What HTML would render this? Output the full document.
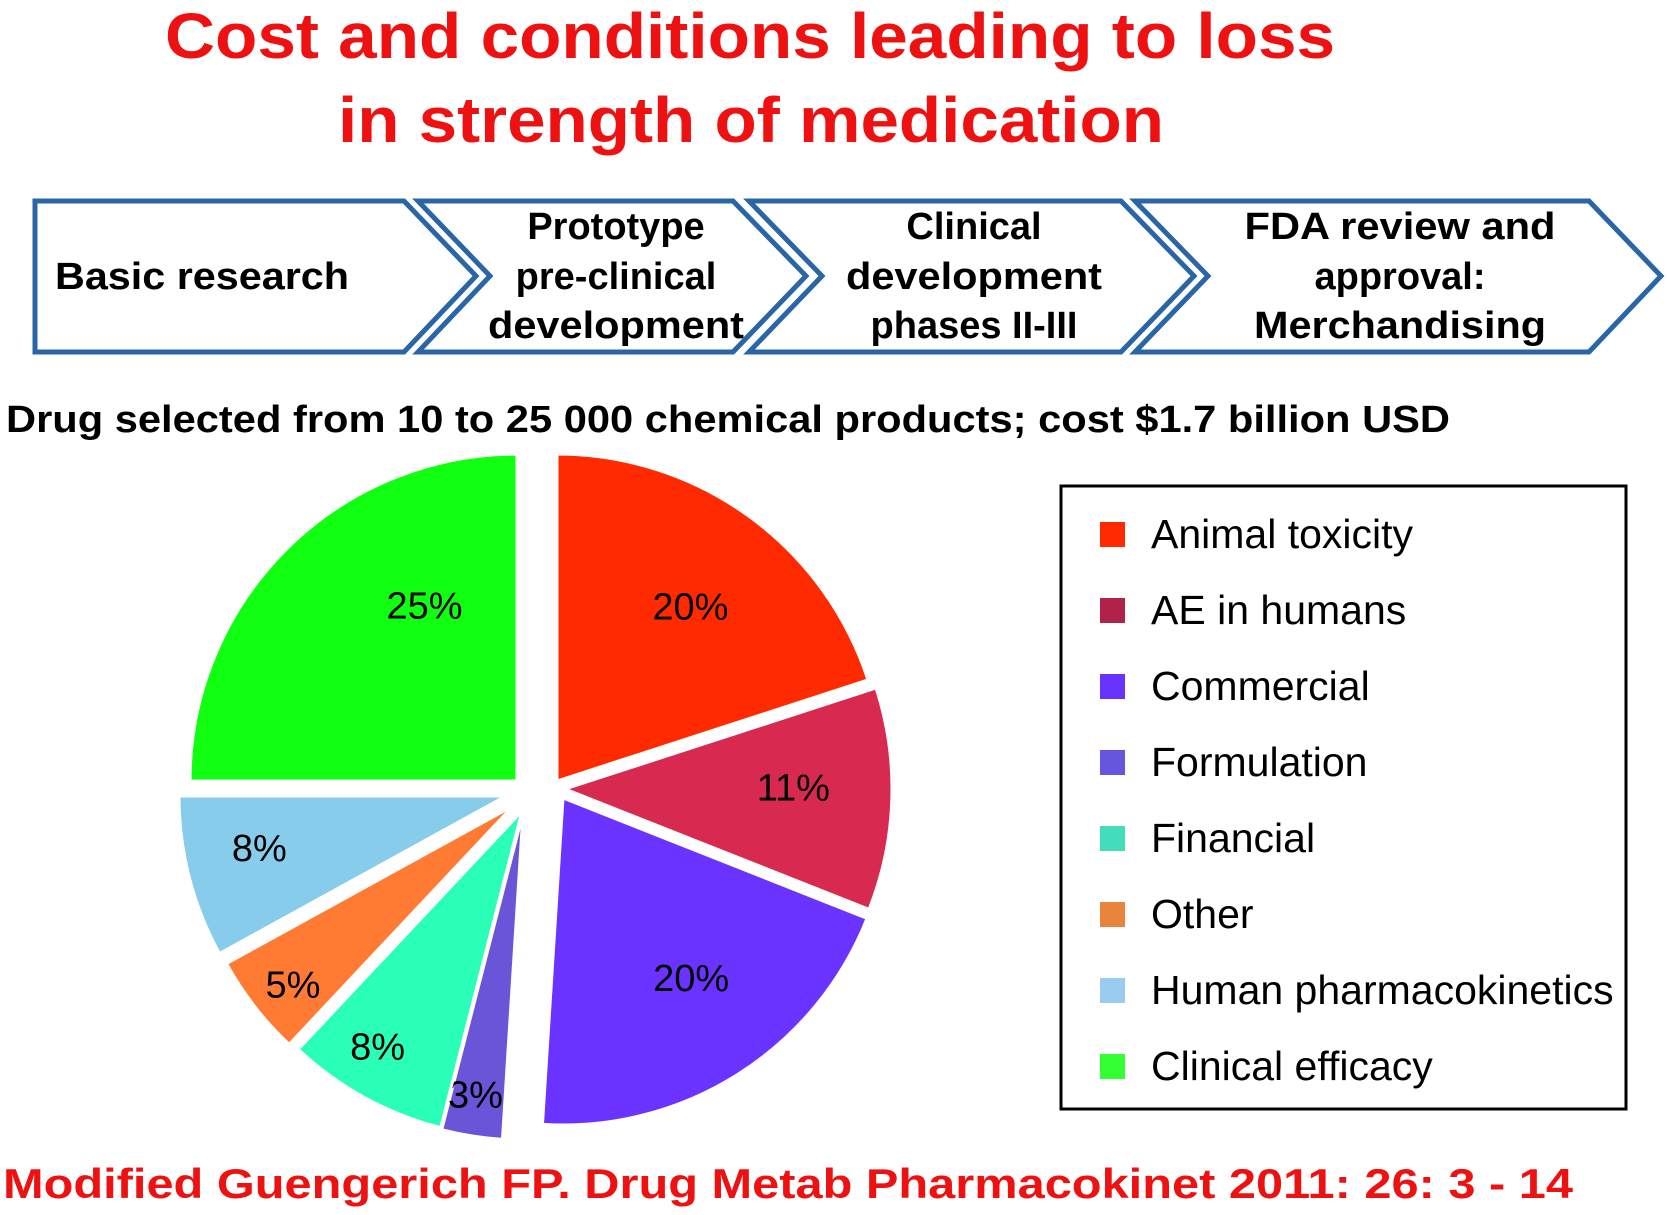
<!DOCTYPE html>
<html><head><meta charset="utf-8"><style>
html,body{margin:0;padding:0;background:#fff;width:1667px;height:1215px;overflow:hidden}
svg{display:block;font-family:"Liberation Sans",Arial,sans-serif}
</style></head><body>
<svg id="chart" width="1667" height="1215" viewBox="0 0 1667 1215">
<g fill="#ee1111" font-weight="bold" font-size="64" text-anchor="middle">
<text x="750" y="58" textLength="1170" lengthAdjust="spacingAndGlyphs">Cost and conditions leading to loss</text>
<text x="751" y="142" textLength="826" lengthAdjust="spacingAndGlyphs">in strength of medication</text>
</g>
<g fill="#fff" stroke="#2a65a6" stroke-width="5" stroke-linejoin="miter">
<polygon points="35,201 404,201 476,276 404,352 35,352"/>
<polygon points="418,201 733,201 806,276 733,352 418,352 490,276"/>
<polygon points="749,201 1121,201 1194,276 1121,352 749,352 822,276"/>
<polygon points="1135,201 1589,201 1661,276 1589,352 1135,352 1208,276"/>
</g>
<g font-weight="bold" font-size="38" fill="#000" text-anchor="middle">
<text x="55" y="289" text-anchor="start" textLength="294" lengthAdjust="spacingAndGlyphs">Basic research</text>
<text x="616" y="239">Prototype</text>
<text x="616" y="289">pre-clinical</text>
<text x="616" y="338" textLength="256" lengthAdjust="spacingAndGlyphs">development</text>
<text x="974" y="239">Clinical</text>
<text x="974" y="289" textLength="256" lengthAdjust="spacingAndGlyphs">development</text>
<text x="974" y="338">phases II-III</text>
<text x="1400" y="239" textLength="311" lengthAdjust="spacingAndGlyphs">FDA review and</text>
<text x="1400" y="289">approval:</text>
<text x="1400" y="338" textLength="292" lengthAdjust="spacingAndGlyphs">Merchandising</text>
</g>
<text x="6" y="432" font-weight="bold" font-size="38" textLength="1444" lengthAdjust="spacingAndGlyphs">Drug selected from 10 to 25 000 chemical products; cost $1.7 billion USD</text>
<g id="pie"></g>
<rect x="1061" y="486" width="565" height="623" fill="#fff" stroke="#000" stroke-width="3"/>
<g id="legend"></g>
<text x="3" y="1198" fill="#ee1111" font-weight="bold" font-size="42" textLength="1570" lengthAdjust="spacingAndGlyphs">Modified Guengerich FP. Drug Metab Pharmacokinet 2011: 26: 3 - 14</text>
</svg>
<script>
const categories = ["Animal toxicity","AE in humans","Commercial","Formulation","Financial","Other","Human pharmacokinetics","Clinical efficacy"];
const values = [20,11,20,3,8,5,8,25];
const valueLabels = ["20%","11%","20%","3%","8%","5%","8%","25%"];
const sliceColors = ["#ff2a00","#d82a50","#6a33ff","#6a55d8","#2affb8","#ff7a33","#88ccec","#11ff11"];
const legendColors = ["#ff2a00","#b0224a","#6633ff","#6655dd","#44ddbb","#e8843c","#99ccee","#33ff33"];
const explodeX = [20,28,26,-14,-15,-24,-31,-20];
const explodeY = [-11,-3,6,21,19,14,4,-11];
const labelR = [0.72,0.72,0.72,0.93,0.72,0.72,0.76,0.72];
const labelDX = [-5,-7,2,0,-31,-34,-6,74];
const labelDY = [16,-9,-19,-19,29,34,-10,-9];
const NS="http://www.w3.org/2000/svg";
const cx=537, cy=792, R=327;
const total=values.reduce((a,b)=>a+b,0);
function angle(v){return v/total*2*Math.PI;}
function pt(a,r,dx,dy){return [cx+dx+r*Math.sin(a), cy+dy-r*Math.cos(a)];}
const pie=document.getElementById('pie');
let a0=0;
values.forEach((v,i)=>{
  const a1=a0+angle(v);
  const dx=explodeX[i], dy=explodeY[i];
  const p0=pt(a0,R,dx,dy), p1=pt(a1,R,dx,dy);
  const large=(a1-a0)>Math.PI?1:0;
  const path=document.createElementNS(NS,'path');
  path.setAttribute('d',`M${cx+dx},${cy+dy} L${p0[0]},${p0[1]} A${R},${R} 0 ${large} 1 ${p1[0]},${p1[1]} Z`);
  path.setAttribute('fill',sliceColors[i]);
  path.setAttribute('stroke','#fff');
  path.setAttribute('stroke-width','3');
  
  
  pie.appendChild(path);
  const am=(a0+a1)/2;
  const lp=pt(am,R*labelR[i],dx+labelDX[i],dy+labelDY[i]);
  const t=document.createElementNS(NS,'text');
  t.setAttribute('x',lp[0]);t.setAttribute('y',lp[1]+13);
  t.setAttribute('text-anchor','middle');t.setAttribute('font-size','38');
  t.textContent=valueLabels[i];
  
  
  pie.appendChild(t);
  a0=a1;
});
const lg=document.getElementById('legend');
categories.forEach((c,i)=>{
  const y=534+i*76;
  const r=document.createElementNS(NS,'rect');
  r.setAttribute('x',1100);r.setAttribute('y',y-12);r.setAttribute('width',25);r.setAttribute('height',25);
  r.setAttribute('fill',legendColors[i]);
  
  
  lg.appendChild(r);
  const t=document.createElementNS(NS,'text');
  t.setAttribute('x',1151);t.setAttribute('y',y+14);t.setAttribute('font-size','41');
  t.textContent=c;
  
  
  lg.appendChild(t);
});
</script>
</body></html>
